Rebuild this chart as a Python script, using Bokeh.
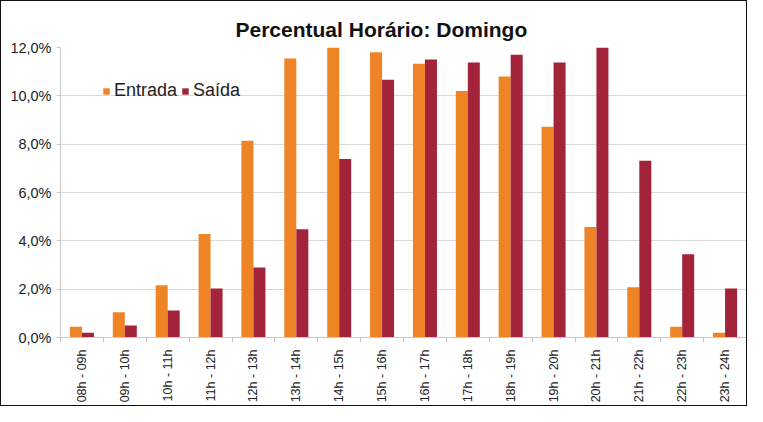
from bokeh.plotting import figure
from bokeh.models import ColumnDataSource, FixedTicker, CustomJSTickFormatter, Range1d, Legend, LegendItem
from bokeh.transform import dodge
from bokeh.embed import file_html
from bokeh.resources import INLINE
from math import pi

categories = ["08h - 09h", "09h - 10h", "10h - 11h", "11h - 12h", "12h - 13h", "13h - 14h",
              "14h - 15h", "15h - 16h", "16h - 17h", "17h - 18h", "18h - 19h", "19h - 20h",
              "20h - 21h", "21h - 22h", "22h - 23h", "23h - 24h"]
entrada = [0.45, 1.04, 2.16, 4.28, 8.14, 11.55, 12.0, 11.8, 11.33, 10.2, 10.8, 8.72, 4.57, 2.08, 0.45, 0.2]
saida = [0.2, 0.5, 1.12, 2.03, 2.9, 4.48, 7.39, 10.67, 11.5, 11.38, 11.7, 11.38, 12.0, 7.31, 3.45, 2.03]
y_ticks = [0, 2, 4, 6, 8, 10, 12]
title_text = "Percentual Horário: Domingo"

centers = [i + 0.5 for i in range(len(categories))]
bounds = [i for i in range(len(categories) + 1)]

src = ColumnDataSource(dict(x=centers, cat=categories, entrada=entrada, saida=saida))

p = figure(width=747, height=406, output_backend="svg", toolbar_location=None,
           x_range=Range1d(0, len(categories)), y_range=Range1d(0, 12),
           min_border_left=59, min_border_right=2, min_border_top=46, min_border_bottom=70)
p.styles = {"border": "1.5px solid #111"}

r1 = p.vbar(x=dodge("x", -0.14), top="entrada", source=src, width=0.28, color="#EF8427",
            line_color=None)
r2 = p.vbar(x=dodge("x", 0.14), top="saida", source=src, width=0.28, color="#A3243A",
            line_color=None)

p.title.text = title_text
p.title.align = "left"
p.title.offset = 175
p.title.vertical_align = "top"
p.title.text_font = "Liberation Sans"
p.title.text_font_size = "21px"
p.title.text_font_style = "bold"
p.title.text_color = "#111"

p.outline_line_color = None
p.background_fill_color = "white"
p.border_fill_color = "white"

p.xgrid.visible = False
p.ygrid.grid_line_color = "#d9d9d9"
p.ygrid.grid_line_width = 1

p.yaxis.ticker = FixedTicker(ticks=y_ticks)
p.yaxis.formatter = CustomJSTickFormatter(code="return tick.toFixed(1).replace('.', ',') + '%';")
p.yaxis.major_label_text_font = "Liberation Sans"
p.yaxis.major_label_text_font_size = "14.5px"
p.yaxis.major_label_text_color = "#222"
p.yaxis.axis_line_color = "#c8c8c8"
p.yaxis.major_tick_line_color = "#c8c8c8"
p.yaxis.major_tick_in = 0
p.yaxis.major_tick_out = 4
p.yaxis.minor_tick_line_color = None

p.xaxis.ticker = FixedTicker(ticks=centers, minor_ticks=bounds)
p.xaxis.major_label_overrides = {c: lab for c, lab in zip(centers, categories)}
p.xaxis.major_label_orientation = pi / 2
p.xaxis.major_label_text_font = "Liberation Sans"
p.xaxis.major_label_text_font_size = "12.5px"
p.xaxis.major_label_text_color = "#222"
p.xaxis.major_label_standoff = 6
p.xaxis.major_tick_line_color = None
p.xaxis.minor_tick_line_color = "#c8c8c8"
p.xaxis.minor_tick_in = 0
p.xaxis.minor_tick_out = 5
p.xaxis.axis_line_color = "#c8c8c8"

legend = Legend(items=[LegendItem(label="Entrada", renderers=[r1]),
                       LegendItem(label="Saída", renderers=[r2])],
                orientation="horizontal", location=(42, 236))
legend.label_text_font = "Liberation Sans"
legend.label_text_font_size = "18px"
legend.label_text_color = "#222"
legend.glyph_width = 8
legend.glyph_height = 8
legend.label_standoff = 4
legend.spacing = 4
legend.padding = 4
legend.border_line_color = None
legend.background_fill_alpha = 0
p.add_layout(legend)

open("out.html", "w").write(file_html(p, INLINE))
